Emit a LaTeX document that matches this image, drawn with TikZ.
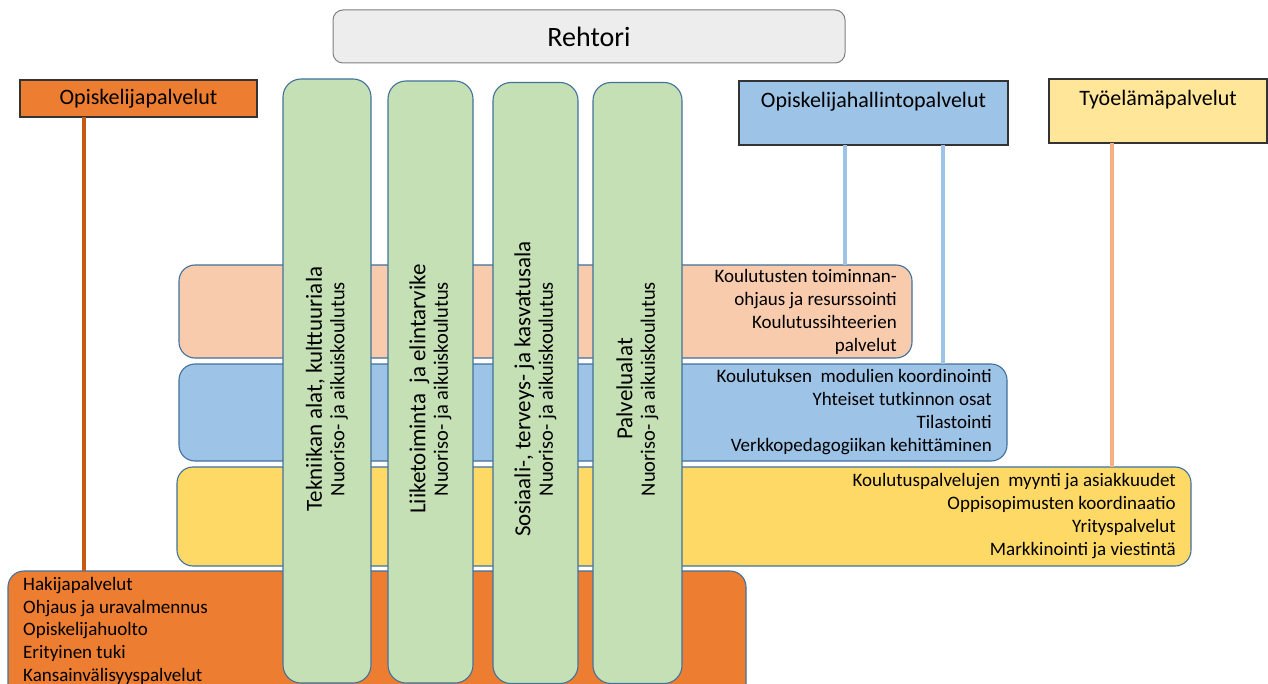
\documentclass[tikz,border=0pt]{standalone}
\usepackage{fontspec}
\setmainfont{Carlito}
\usetikzlibrary{calc}
\definecolor{bandline}{HTML}{41719C}
\definecolor{colgreen}{HTML}{C5E0B4}
\definecolor{peachfill}{HTML}{F8CBAD}
\definecolor{bluefill}{HTML}{9DC3E6}
\definecolor{yellowfill}{HTML}{FFD966}
\definecolor{orangefill}{HTML}{ED7D31}
\definecolor{lightyellow}{HTML}{FFE699}
\definecolor{rehtorifill}{HTML}{EDEDED}
\definecolor{orangeline}{HTML}{C55A11}
\definecolor{blueline}{HTML}{9DC3E6}
\definecolor{peachline}{HTML}{F4B183}
\newcommand{\fsz}[2]{\fontsize{#1}{#2}\selectfont}
\tikzset{
  hdr/.style={draw=black!80, line width=1.2pt, inner sep=0, outer sep=0, anchor=north west},
  band/.style={draw=bandline, line width=1.1pt, rounded corners=16pt, inner sep=0, outer sep=0, anchor=north west},
  colbox/.style={draw=bandline, fill=colgreen, line width=1.1pt, rounded corners=18pt, inner sep=0, outer sep=0, anchor=north west},
  bandtext/.style={font=\fsz{19}{23}, inner sep=0, text width=#1, align=flush right, anchor=east},
  coltext/.style={rotate=90, inner sep=0, align=center, font=\fsz{20.5}{22.5}},
  hdrtext/.style={font=\fsz{22}{26}, inner sep=0},
  conn/.style={line width=3.5pt}
}
\begin{document}
\begin{tikzpicture}[x=1pt,y=-1pt]
\clip (0,0) rectangle (1268,684);
\fill[white] (0,0) rectangle (1268,684);
% header boxes
\node[hdr, draw=black!50, line width=1pt, rounded corners=10pt, fill=rehtorifill, minimum width=512pt, minimum height=53pt, font=\fsz{28}{32}] (reh) at (333,10) {Rehtori};
\node[hdr, fill=orangefill, minimum width=237pt, minimum height=37pt, font=\fsz{22}{26}] (opl) at (20,80) {Opiskelijapalvelut};
\node[hdr, fill=bluefill, minimum width=269pt, minimum height=64pt] (ohp) at (739,81) {};
\node[hdrtext, anchor=center] (ohptxt) at ($(ohp.north)+(0,21)$) {Opiskelijahallintopalvelut};
\node[hdr, fill=lightyellow, minimum width=218pt, minimum height=64pt] (tep) at (1049,79) {};
\node[hdrtext, anchor=center] (teptxt) at ($(tep.north)+(0,21)$) {Työelämäpalvelut};
% bands
\node[band, fill=peachfill, minimum width=733pt, minimum height=93pt] (peach) at (179,265) {};
\node[band, fill=bluefill, minimum width=828pt, minimum height=97pt] (blue) at (179,364) {};
\node[band, fill=yellowfill, minimum width=1014pt, minimum height=99pt] (yellow) at (177,467) {};
\node[band, fill=orangefill, minimum width=738pt, minimum height=140pt] (ob) at (8,571) {};
% connectors
\draw[conn, orangeline] ([xshift=64pt]opl.south west) -- ([xshift=64pt]opl.south west |- ob.north);
\draw[conn, blueline] ([xshift=106pt]ohp.south west) -- ([xshift=106pt]ohp.south west |- peach.north);
\draw[conn, blueline] ([xshift=204pt]ohp.south west) -- ([xshift=204pt]ohp.south west |- blue.north);
\draw[conn, peachline] ([xshift=63pt]tep.south west) -- ([xshift=63pt]tep.south west |- yellow.north);
% band texts
\node[bandtext=220pt] (peachtxt) at ([xshift=-15pt]peach.east) {Koulutusten toiminnan-\\ohjaus ja resurssointi\\Koulutussihteerien\\palvelut};
\node[bandtext=300pt] (bluetxt) at ([xshift=-15pt]blue.east) {Koulutuksen\ \ modulien koordinointi\\Yhteiset tutkinnon osat\\Tilastointi\\Verkkopedagogiikan kehittäminen};
\node[bandtext=360pt] (yellowtxt) at ([xshift=-15pt]yellow.east) {Koulutuspalvelujen\ \ myynti ja asiakkuudet\\Oppisopimusten koordinaatio\\Yrityspalvelut\\Markkinointi ja viestintä};
\node[font=\fsz{19}{22.8}, inner sep=0, align=left, anchor=north west] (obtxt) at ($(ob.north west)+(15,6)$) {Hakijapalvelut\\Ohjaus ja uravalmennus\\Opiskelijahuolto\\Erityinen tuki\\Kansainvälisyyspalvelut};
% green columns
\node[colbox, minimum width=88pt, minimum height=604pt] (c1) at (283,79) {};
\node[colbox, minimum width=85pt, minimum height=602pt] (c2) at (388,81) {};
\node[colbox, minimum width=85pt, minimum height=601pt] (c3) at (493,82.5) {};
\node[colbox, minimum width=89pt, minimum height=601pt] (c4) at (593,82.5) {};
\node[coltext] (t1) at (c1.center |- 0,389) {{\fsz{23}{22.5}Tekniikan alat, kulttuuriala}\\Nuoriso- ja aikuiskoulutus};
\node[coltext] (t2) at (c2.center |- 0,389) {{\fsz{23}{22.5}Liiketoiminta\ \ ja elintarvike}\\Nuoriso- ja aikuiskoulutus};
\node[coltext] (t3) at (c3.center |- 0,389) {{\fsz{23}{22.5}Sosiaali-, terveys- ja kasvatusala}\\Nuoriso- ja aikuiskoulutus};
\node[coltext] (t4) at (c4.center |- 0,389) {{\fsz{23}{22.5}Palvelualat}\\Nuoriso- ja aikuiskoulutus};
\end{tikzpicture}
\end{document}
